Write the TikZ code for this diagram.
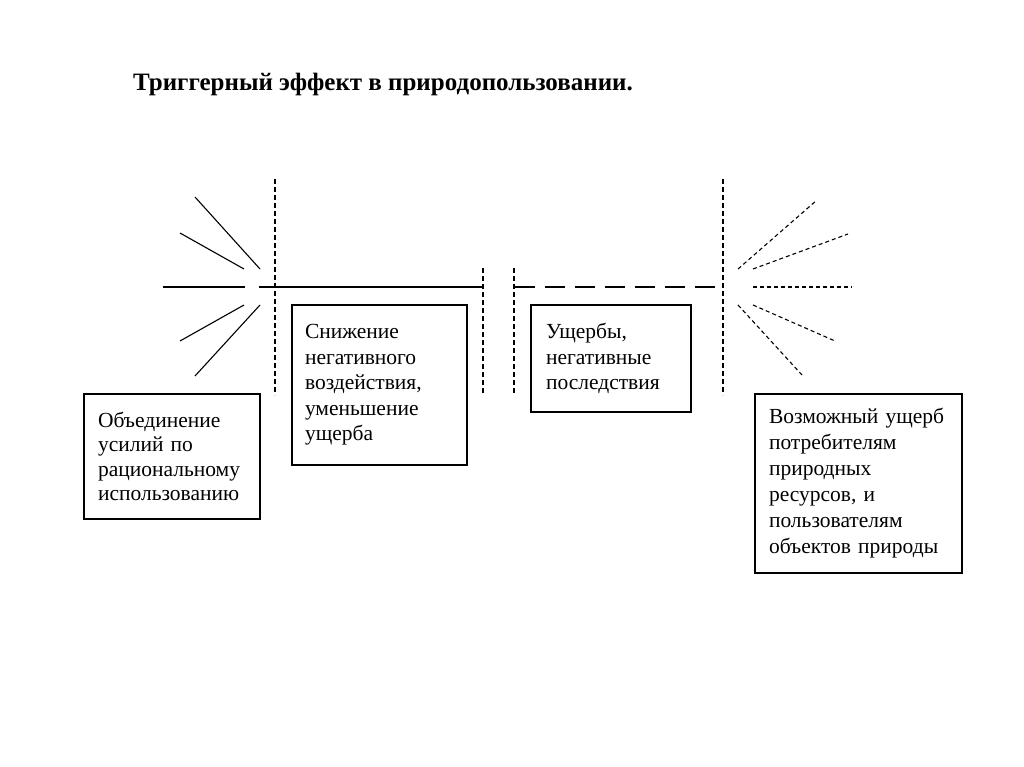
\documentclass[tikz,border=0pt]{standalone}
\usepackage{fontspec}
\setmainfont{Liberation Serif}
\begin{document}
\begin{tikzpicture}[x=1pt,y=-1pt,
  box/.style={draw, line width=1.3pt, inner ysep=0pt, align=left,
    font=\fontsize{21.5}{25.5}\selectfont},
  solidray/.style={line width=1.1pt},
  vdash/.style={line width=1.1pt, dash pattern=on 5pt off 3pt},
  longdash/.style={line width=1.1pt, dash pattern=on 20pt off 10pt},
  shortdash/.style={line width=1.1pt, dash pattern=on 4pt off 3pt}]
\useasboundingbox (0,0) rectangle (1024,767);
\fill[white] (0,0) rectangle (1024,767);

% title
\node[anchor=base west, inner sep=0pt, font=\bfseries\fontsize{25}{29}\selectfont]
  (title) at (133,91) {Триггерный эффект в природопользовании.};

% boxes
\node[box, font=\fontsize{21.5}{24.3}\selectfont, inner xsep=14pt, text width=148pt, minimum width=176pt, minimum height=125pt]
  (b1) at (172,456.5) {Объединение\\усилий по\\рациональному\\использованию};
\node[box, inner xsep=13pt, text width=149pt, minimum width=175pt, minimum height=160pt]
  (b2) at (379.5,385) {Снижение\\негативного\\воздействия,\\уменьшение\\ущерба};
\node[box, inner xsep=15pt, text width=130pt, minimum width=160pt, minimum height=107pt]
  (b3) at (611,358.5) {Ущербы,\\негативные\\последствия};
\node[box, font=\fontsize{21.5}{26}\selectfont, inner xsep=14pt, text width=179pt, minimum width=207pt, minimum height=179pt]
  (b4) at (858.5,483.5) {Возможный ущерб\\потребителям\\природных\\ресурсов, и\\пользователям\\объектов природы};

% left burst (solid)
\coordinate (lh1) at (163,287); \coordinate (lh2) at (245,287);
\draw[solidray] (lh1) -- (lh2);
\coordinate (r1a) at (195,197); \coordinate (r1b) at (260,269);
\coordinate (r2a) at (180,233); \coordinate (r2b) at (244,269);
\coordinate (r3a) at (180,341); \coordinate (r3b) at (244,305);
\coordinate (r4a) at (195,376); \coordinate (r4b) at (260,305);
\draw[solidray] (r1a) -- (r1b);
\draw[solidray] (r2a) -- (r2b);
\draw[solidray] (r3a) -- (r3b);
\draw[solidray] (r4a) -- (r4b);

% main horizontal line
\coordinate (m1) at (259,287); \coordinate (m2) at (483,287);
\draw[solidray] (m1) -- (m2);
\coordinate (d1) at (515,287); \coordinate (d2) at (723,287);
\draw[longdash] (d1) -- (d2);

% vertical dashed lines
\coordinate (v1a) at (275,179); \coordinate (v1b) at (275,395);
\coordinate (v2a) at (483,268); \coordinate (v2b) at (483,395);
\coordinate (v3a) at (514,268); \coordinate (v3b) at (514,395);
\coordinate (v4a) at (723,179); \coordinate (v4b) at (723,395);
\draw[vdash] (v1a) -- (v1b);
\draw[vdash] (v2a) -- (v2b);
\draw[vdash] (v3a) -- (v3b);
\draw[vdash] (v4a) -- (v4b);

% right burst (dashed)
\coordinate (s1a) at (738,269); \coordinate (s1b) at (817,200);
\coordinate (s2a) at (753,269); \coordinate (s2b) at (848,234);
\coordinate (s3a) at (753,287); \coordinate (s3b) at (852,287);
\coordinate (s4a) at (753,305); \coordinate (s4b) at (835,341);
\coordinate (s5a) at (738,305); \coordinate (s5b) at (802,375);
\draw[shortdash] (s1a) -- (s1b);
\draw[shortdash] (s2a) -- (s2b);
\draw[shortdash] (s3a) -- (s3b);
\draw[shortdash] (s4a) -- (s4b);
\draw[shortdash] (s5a) -- (s5b);
\end{tikzpicture}
\end{document}
